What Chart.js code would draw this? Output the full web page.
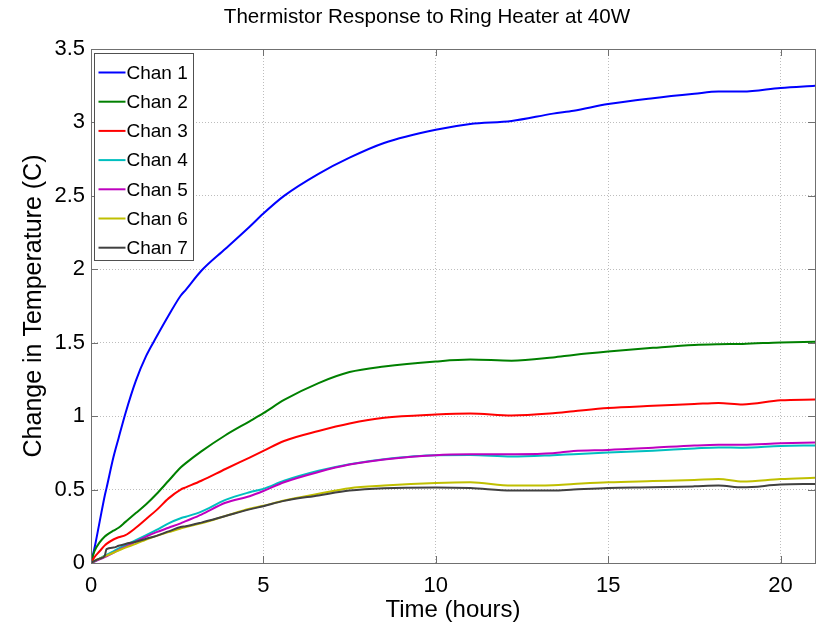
<!DOCTYPE html>
<html>
<head>
<meta charset="utf-8">
<script src="https://cdn.jsdelivr.net/npm/chart.js@4.4.0/dist/chart.umd.min.js"></script>
<style>
  html, body { margin: 0; padding: 0; background: #fff; }
</style>
</head>
<body>
<canvas id="thermChart" width="821" height="626"></canvas>
<script>
// Time samples (hours) shared by all channels
const HOURS = [0, 0.1, 0.25, 0.4, 0.45, 0.65, 0.8, 1.0, 1.3, 1.6, 1.9, 2.25, 2.6, 2.75, 3.2, 3.9, 4.6, 5.0, 5.6, 6.6, 7.5, 8.5, 10, 11, 12.2, 13.4, 14, 15, 16.3, 17.5, 18.2, 18.9, 20, 21];

const CHAN_1 = [0, 0.1, 0.28, 0.46, 0.51, 0.72, 0.85, 1.02, 1.24, 1.41, 1.54, 1.685, 1.82, 1.86, 1.99, 2.14, 2.29, 2.38, 2.5, 2.65, 2.76, 2.86, 2.95, 2.99, 3.01, 3.06, 3.08, 3.125, 3.165, 3.195, 3.21, 3.21, 3.235, 3.25];
const CHAN_2 = [0, 0.08, 0.14, 0.18, 0.19, 0.22, 0.24, 0.28, 0.34, 0.4, 0.47, 0.56, 0.65, 0.68, 0.76, 0.87, 0.965, 1.02, 1.11, 1.225, 1.3, 1.338, 1.372, 1.385, 1.378, 1.4, 1.417, 1.44, 1.465, 1.485, 1.49, 1.492, 1.502, 1.507];
const CHAN_3 = [0, 0.04, 0.08, 0.12, 0.13, 0.16, 0.175, 0.19, 0.24, 0.3, 0.36, 0.44, 0.5, 0.515, 0.56, 0.64, 0.718, 0.763, 0.831, 0.899, 0.95, 0.989, 1.011, 1.018, 1.005, 1.02, 1.034, 1.056, 1.07, 1.082, 1.09, 1.08, 1.108, 1.113];
const CHAN_4 = [0, 0.01, 0.03, 0.05, 0.055, 0.08, 0.1, 0.12, 0.155, 0.19, 0.225, 0.27, 0.305, 0.315, 0.35, 0.43, 0.482, 0.505, 0.56, 0.628, 0.673, 0.707, 0.734, 0.735, 0.725, 0.734, 0.741, 0.752, 0.765, 0.78, 0.787, 0.785, 0.797, 0.8];
const CHAN_5 = [0, 0.01, 0.025, 0.04, 0.045, 0.07, 0.09, 0.11, 0.145, 0.18, 0.21, 0.24, 0.27, 0.285, 0.33, 0.41, 0.455, 0.49, 0.55, 0.62, 0.67, 0.705, 0.734, 0.74, 0.741, 0.748, 0.763, 0.77, 0.785, 0.8, 0.805, 0.805, 0.815, 0.82];
const CHAN_6 = [0, 0.015, 0.03, 0.045, 0.05, 0.07, 0.085, 0.105, 0.13, 0.16, 0.185, 0.21, 0.235, 0.245, 0.27, 0.32, 0.369, 0.39, 0.426, 0.471, 0.509, 0.527, 0.545, 0.55, 0.527, 0.53, 0.538, 0.55, 0.558, 0.565, 0.572, 0.555, 0.572, 0.58];
const CHAN_7 = [0, 0.015, 0.03, 0.05, 0.095, 0.105, 0.117, 0.13, 0.145, 0.165, 0.185, 0.215, 0.245, 0.25, 0.275, 0.32, 0.365, 0.387, 0.423, 0.46, 0.493, 0.509, 0.514, 0.51, 0.493, 0.493, 0.5, 0.511, 0.515, 0.522, 0.527, 0.515, 0.534, 0.538];

const CHANNEL_LABELS = ['Chan 1', 'Chan 2', 'Chan 3', 'Chan 4', 'Chan 5', 'Chan 6', 'Chan 7'];
const CHANNEL_COLORS = ['#0000ff', '#008000', '#ff0000', '#00bfbf', '#bf00bf', '#bfbf00', '#404040'];
const X_TICKS = [0, 5, 10, 15, 20];
const Y_TICKS = [0, 0.5, 1, 1.5, 2, 2.5, 3, 3.5];
const CHART_TITLE = 'Thermistor Response to Ring Heater at 40W';

const FONT = "'Liberation Sans', Arial, Helvetica, sans-serif";
const AXIS_GRAY = '#707070';

const series = [CHAN_1, CHAN_2, CHAN_3, CHAN_4, CHAN_5, CHAN_6, CHAN_7];

const datasets = series.map((vals, i) => ({
  label: CHANNEL_LABELS[i],
  data: HOURS.map((h, j) => ({ x: h, y: vals[j] })),
  borderColor: CHANNEL_COLORS[i],
  borderWidth: 2,
  pointRadius: 0,
  cubicInterpolationMode: 'monotone',
  fill: false,
  order: series.length - 1 - i
}));

// title, frame, inward tick marks and the boxed legend (MATLAB look)
const matlabFrame = {
  id: 'matlabFrame',
  afterDraw(chart) {
    const ctx = chart.ctx;
    const ca = chart.chartArea;
    const xs = chart.scales.x, ys = chart.scales.y;
    ctx.save();

    // title sits a bit right of the canvas centre, like the original
    ctx.fillStyle = '#000';
    ctx.font = '20.6px ' + FONT;
    ctx.textAlign = 'center';
    ctx.textBaseline = 'middle';
    ctx.fillText(CHART_TITLE, 427, 17);

    ctx.strokeStyle = AXIS_GRAY;
    ctx.lineWidth = 1;
    ctx.strokeRect(Math.round(ca.left) + 0.5, Math.round(ca.top) + 0.5,
      Math.round(ca.right - ca.left), Math.round(ca.bottom - ca.top));
    ctx.beginPath();
    X_TICKS.forEach(v => {
      const px = Math.round(xs.getPixelForValue(v)) + 0.5;
      ctx.moveTo(px, ca.bottom); ctx.lineTo(px, ca.bottom - 7);
      ctx.moveTo(px, ca.top); ctx.lineTo(px, ca.top + 7);
    });
    Y_TICKS.forEach(v => {
      const py = Math.round(ys.getPixelForValue(v)) + 0.5;
      ctx.moveTo(ca.left, py); ctx.lineTo(ca.left + 7, py);
      ctx.moveTo(ca.right, py); ctx.lineTo(ca.right - 7, py);
    });
    ctx.stroke();

    // legend box
    const lx = Math.round(ca.left) + 3.5, ly = Math.round(ca.top) + 4.5;
    const lw = 99, rowH = 29.2, lh = 207;
    ctx.fillStyle = '#fff';
    ctx.fillRect(lx, ly, lw, lh);
    ctx.strokeStyle = '#505050';
    ctx.strokeRect(lx, ly, lw, lh);
    ctx.font = '19px ' + FONT;
    ctx.textBaseline = 'middle';
    ctx.textAlign = 'left';
    chart.data.datasets.forEach((ds, i) => {
      const cy = ly + 19 + i * rowH;
      ctx.strokeStyle = ds.borderColor;
      ctx.lineWidth = 2;
      ctx.beginPath();
      ctx.moveTo(lx + 4, cy); ctx.lineTo(lx + 31, cy);
      ctx.stroke();
      ctx.fillStyle = '#000';
      ctx.fillText(ds.label, lx + 32, cy + 1);
    });
    ctx.restore();
  }
};

new Chart(document.getElementById('thermChart'), {
  type: 'line',
  data: { datasets },
  options: {
    responsive: false,
    devicePixelRatio: 1,
    animation: false,
    layout: { padding: { left: 0, right: 6, top: 49, bottom: 0 } },
    plugins: {
      legend: { display: false },
      tooltip: { enabled: false },
      title: { display: false }
    },
    scales: {
      x: {
        type: 'linear',
        min: 0,
        max: 21,
        afterFit: s => { s.height = 63; },
        afterBuildTicks: s => { s.ticks = X_TICKS.map(v => ({ value: v })); },
        ticks: { color: '#000', padding: 10, font: { family: FONT, size: 22 }, callback: v => String(v) },
        grid: { color: '#bdbdbd', lineWidth: 1, drawTicks: false },
        border: { display: false, dash: [1, 2] },
        title: {
          display: true,
          text: 'Time (hours)',
          color: '#000',
          font: { family: FONT, size: 24 },
          padding: { top: 0, bottom: 1 }
        }
      },
      y: {
        type: 'linear',
        min: 0,
        max: 3.5,
        afterFit: s => { s.width = 91; },
        afterBuildTicks: s => { s.ticks = Y_TICKS.map(v => ({ value: v })); },
        ticks: { color: '#000', padding: 6, font: { family: FONT, size: 22 }, callback: v => String(v) },
        grid: { color: '#bdbdbd', lineWidth: 1, drawTicks: false },
        border: { display: false, dash: [1, 2] },
        title: {
          display: true,
          text: 'Change in Temperature (C)',
          color: '#000',
          font: { family: FONT, size: 25 },
          padding: { top: 19, bottom: 0 }
        }
      }
    }
  },
  plugins: [matlabFrame]
});
</script>
</body>
</html>
